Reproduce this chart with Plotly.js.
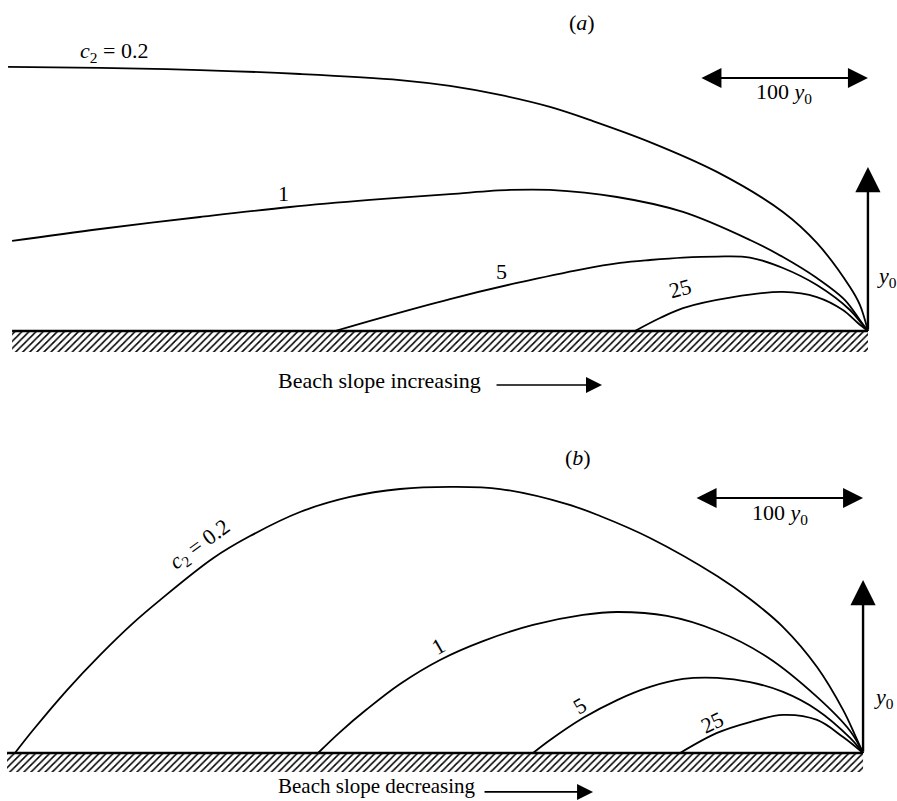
<!DOCTYPE html>
<html>
<head>
<meta charset="utf-8">
<script src="https://cdn.plot.ly/plotly-3.0.1.min.js"></script>
<style>html,body{margin:0;padding:0;background:#fff;}#chart{width:897px;height:801px;}</style>
</head>
<body>
<div id="chart"></div>
<script>
// Distances in units of y0 (x: offshore distance, negative seaward; y: height)
// Panel (a): beach slope increasing
var curveLabels = ["<i>c</i><sub>2</sub> = 0.2", "1", "5", "25"];
var aX_c02 = [-511.9,-457.1,-397.6,-338.1,-278.6,-248.8,-219.0,-189.3,-163.7,-129.8,-89.9,-50.6,-30.4,-10.7,-4.8,0];
var aY_c02 = [1.610,1.604,1.591,1.567,1.530,1.494,1.439,1.366,1.280,1.152,0.970,0.726,0.537,0.268,0.159,0];
var aX_c1 = [-509.5,-457.1,-397.6,-344.0,-296.4,-248.8,-213.1,-189.3,-149.4,-110.1,-70.2,-50.6,-30.4,-13.7,-4.8,0];
var aY_c1 = [0.549,0.622,0.695,0.756,0.799,0.835,0.860,0.860,0.817,0.726,0.555,0.451,0.323,0.189,0.067,0];
var aX_c5 = [-317.3,-290.5,-248.8,-208.9,-169.6,-147.6,-129.8,-110.1,-90.0,-70.2,-50.6,-30.4,-10.7,-3.6,0];
var aY_c5 = [0,0.079,0.195,0.293,0.378,0.415,0.433,0.448,0.454,0.448,0.384,0.280,0.128,0.043,0];
var aX_c25 = [-138.7,-123.8,-110.1,-80.4,-50.6,-30.4,-14.9,-6.0,0];
var aY_c25 = [0,0.079,0.140,0.207,0.238,0.207,0.128,0.049,0];

// Panel (b): beach slope decreasing
var bX_c02 = [-504.8,-494.0,-473.8,-454.2,-434.5,-418.5,-386.9,-364.9,-335.1,-305.4,-275.6,-245.8,-216.0,-176.2,-156.5,-126.8,-86.9,-67.3,-47.6,-27.4,-11.9,-4.8,0];
var bY_c02 = [0,0.133,0.364,0.566,0.751,0.884,1.126,1.254,1.393,1.480,1.526,1.538,1.526,1.439,1.370,1.243,1.023,0.890,0.728,0.497,0.249,0.104,0];
var bX_c1 = [-324.4,-311.3,-295.2,-275.6,-251.8,-226.2,-196.4,-166.7,-146.4,-116.7,-86.9,-57.1,-27.4,-7.7,0];
var bY_c1 = [0,0.121,0.254,0.399,0.538,0.647,0.740,0.798,0.815,0.792,0.705,0.555,0.324,0.127,0];
var bX_c5 = [-196.4,-186.3,-166.7,-146.4,-126.8,-107.1,-86.9,-67.3,-47.6,-27.4,-7.7,0];
var bY_c5 = [0,0.075,0.202,0.306,0.382,0.428,0.434,0.410,0.353,0.249,0.087,0];
var bX_c25 = [-108.9,-86.9,-67.3,-47.6,-27.4,-11.9,0];
var bY_c25 = [0,0.116,0.179,0.220,0.191,0.092,0];

var beachX = [-509.5, 0];
var scaleLen = 100;

var FONT = "Liberation Serif, Times New Roman, serif";
var FS = 22;
function curve(x, y, xa, ya) {
  return {x: x, y: y, xaxis: xa, yaxis: ya, type: 'scatter', mode: 'lines',
    line: {color: '#000', width: 1.8, shape: 'spline', smoothing: 1}, hoverinfo: 'skip'};
}
function hatch(x0, x1, depth, xa, ya) {
  return {x: [x0, x1, x1, x0, x0], y: [0, 0, -depth, -depth, 0], xaxis: xa, yaxis: ya,
    type: 'scatter', mode: 'lines', fill: 'toself', line: {width: 0, color: 'rgba(0,0,0,0)'},
    fillcolor: 'white',
    fillpattern: {shape: '/', fgcolor: '#000', bgcolor: '#fff', size: 5, solidity: 0.3}, hoverinfo: 'skip'};
}
function ground(x0, x1, xa, ya) {
  return {x: [x0, x1], y: [0, 0], xaxis: xa, yaxis: ya, type: 'scatter', mode: 'lines',
    line: {color: '#000', width: 2.6}, hoverinfo: 'skip'};
}

var data = [
  hatch(beachX[0], beachX[1], 0.128, 'x', 'y'),
  ground(beachX[0], beachX[1], 'x', 'y'),
  curve(aX_c02, aY_c02, 'x', 'y'),
  curve(aX_c1, aY_c1, 'x', 'y'),
  curve(aX_c5, aY_c5, 'x', 'y'),
  curve(aX_c25, aY_c25, 'x', 'y'),
  hatch(beachX[0], beachX[1], 0.110, 'x2', 'y2'),
  ground(beachX[0], beachX[1], 'x2', 'y2'),
  curve(bX_c02, bY_c02, 'x2', 'y2'),
  curve(bX_c1, bY_c1, 'x2', 'y2'),
  curve(bX_c5, bY_c5, 'x2', 'y2'),
  curve(bX_c25, bY_c25, 'x2', 'y2')
];

function txt(t, x, y, xa, ya, rot, size) {
  return {text: t, x: x, y: y, xref: xa, yref: ya, showarrow: false, textangle: rot || 0,
    font: {family: FONT, size: size || FS, color: '#000'}, xanchor: 'center', yanchor: 'middle'};
}
function arrow(x, y, ax, ay, xa, ya, side, w, s) {
  return {text: '', x: x, y: y, ax: ax, ay: ay, xref: xa, yref: ya, axref: xa, ayref: ya,
    showarrow: true, arrowhead: 2, arrowside: side || 'end', arrowwidth: w || 2, arrowsize: s || 1.6,
    arrowcolor: '#000', standoff: 0, startstandoff: 0};
}

var ann = [
  // panel a
  txt('(<i>a</i>)', -170.2, 1.878, 'x', 'y'),
  txt(curveLabels[0], -448.8, 1.701, 'x', 'y'),
  txt(curveLabels[1], -348.2, 0.841, 'x', 'y'),
  txt(curveLabels[2], -217.9, 0.365, 'x', 'y'),
  txt(curveLabels[3], -111.9, 0.262, 'x', 'y', -15),
  arrow(0, 1.543, -scaleLen, 1.543, 'x', 'y', 'end+start', 2, 2),
  txt('100 <i>y</i><sub>0</sub>', -50, 1.452, 'x', 'y'),
  arrow(0, 1.0, 0, 0, 'x', 'y', 'end', 2.4, 2.1),
  txt('<i>y</i><sub>0</sub>', 11.3, 0.329, 'x', 'y'),
  txt('Beach slope increasing', -290.5, -0.299, 'x', 'y'),
  arrow(-158.3, -0.329, -222, -0.329, 'x', 'y', 'end', 1.6, 2),
  // panel b
  txt('(<i>b</i>)', -169.6, 1.711, 'x2', 'y2'),
  txt(curveLabels[0], -394.6, 1.202, 'x2', 'y2', -36),
  txt(curveLabels[1], -253.0, 0.613, 'x2', 'y2', -30),
  txt(curveLabels[2], -168.5, 0.277, 'x2', 'y2', -30),
  txt(curveLabels[3], -89.9, 0.179, 'x2', 'y2', -25),
  arrow(0, 1.474, -scaleLen, 1.474, 'x2', 'y2', 'end+start', 2, 2),
  txt('100 <i>y</i><sub>0</sub>', -49.4, 1.382, 'x2', 'y2'),
  arrow(0, 1.0, 0, 0, 'x2', 'y2', 'end', 2.4, 2.1),
  txt('<i>y</i><sub>0</sub>', 12.5, 0.318, 'x2', 'y2'),
  txt('Beach slope decreasing', -289.5, -0.191, 'x2', 'y2', 0, 21),
  arrow(-160.7, -0.225, -226.2, -0.225, 'x2', 'y2', 'end', 1.6, 2)
];

var hidden = {visible: false, showgrid: false, zeroline: false, fixedrange: true};
var layout = {
  width: 897, height: 801,
  margin: {l: 0, r: 0, t: 0, b: 0},
  paper_bgcolor: '#fff', plot_bgcolor: '#fff',
  showlegend: false,
  xaxis: Object.assign({}, hidden, {domain: [0, 1], range: [-516.7, 17.3], anchor: 'y'}),
  yaxis: Object.assign({}, hidden, {domain: [0.5006, 1], range: [-0.4207, 2.018], anchor: 'x'}),
  xaxis2: Object.assign({}, hidden, {domain: [0, 1], range: [-513.7, 20.2], anchor: 'y2'}),
  yaxis2: Object.assign({}, hidden, {domain: [0, 0.5006], range: [-0.2775, 2.0405], anchor: 'x2'}),
  annotations: ann
};
Plotly.newPlot('chart', data, layout, {staticPlot: true, displayModeBar: false});
</script>
</body>
</html>
